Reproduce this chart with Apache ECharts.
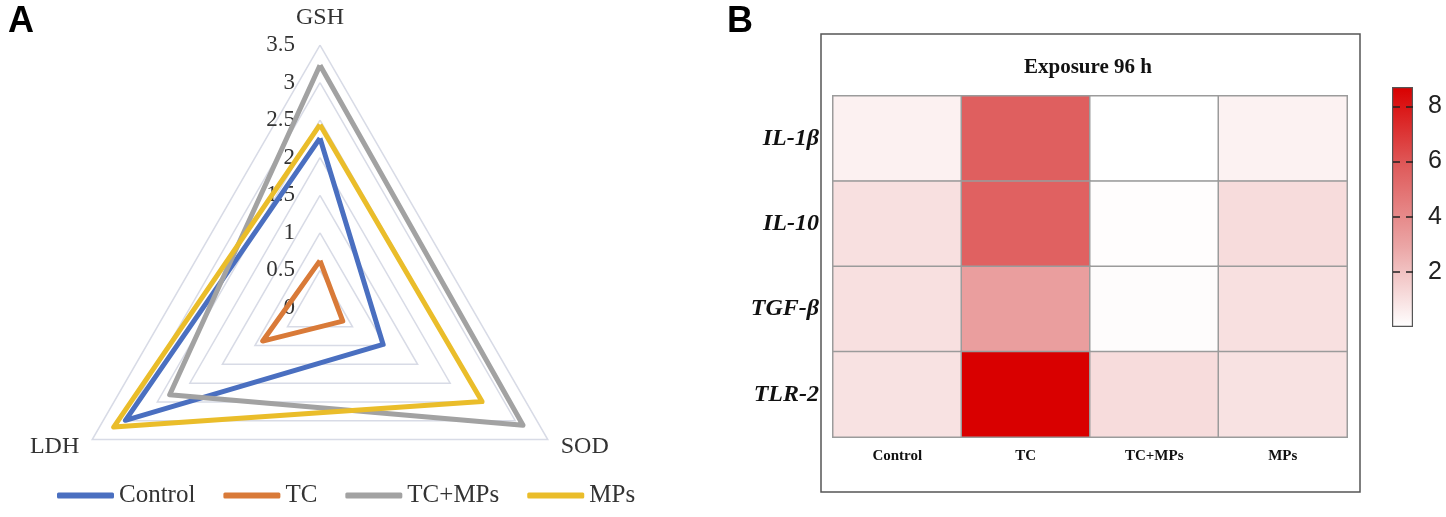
<!DOCTYPE html>
<html>
<head>
<meta charset="utf-8">
<script src="https://cdn.jsdelivr.net/npm/echarts@6/dist/echarts.min.js"></script>
<style>
  html, body { margin: 0; padding: 0; background: #fff; }
  #main { width: 1446px; height: 517px; }
</style>
</head>
<body>
<div id="main"></div>
<script>
// ---- panel A: radar ----
const indicatorNames = ['GSH', 'LDH', 'SOD'];
const radarMax = 3.5;
const groupNames = ['Control', 'TC', 'TC+MPs', 'MPs'];
// order: GSH, LDH, SOD
const controlValues = [2.26, 2.99, 0.97];
const tcValues = [0.63, 0.88, 0.35];
const tcMpsValues = [3.23, 2.31, 3.12];
const mpsValues = [2.44, 3.17, 2.49];
const lineColors = ['#4a6fc0', '#d97a38', '#a2a2a2', '#eabd2a'];

// ---- panel B: heatmap ----
const heatGroups = ['Control', 'TC', 'TC+MPs', 'MPs'];
const genes = ['IL-1β', 'IL-10', 'TGF-β', 'TLR-2'];
// one array per gene, values per group
const il1bValues = [0.45, 5.7, 0.0, 0.42];
const il10Values = [1.0, 5.6, 0.05, 1.15];
const tgfbValues = [1.0, 3.2, 0.1, 1.0];
const tlr2Values = [0.95, 8.7, 1.15, 0.95];
const colorMax = 8.7;
const colorTicks = [2, 4, 6, 8];
const colorStops = ['#ffffff', '#eba6a6', '#df5c5c', '#d90000'];

(function() {
  const chart = echarts.init(document.getElementById('main'));
  const serif = 'Liberation Serif, Times New Roman, serif';

  const radarSeries = [controlValues, tcValues, tcMpsValues, mpsValues].map((vals, i) => ({
    type: 'radar',
    name: groupNames[i],
    radarIndex: 0,
    symbol: 'none',
    lineStyle: { width: 5, color: lineColors[i], join: 'round' },
    itemStyle: { color: lineColors[i] },
    data: [{ name: groupNames[i], value: vals }]
  }));

  const geneRows = [il1bValues, il10Values, tgfbValues, tlr2Values];
  const heatData = [];
  geneRows.forEach((row, r) => {
    row.forEach((v, c) => heatData.push([c, r, v]));
  });

  const barGradient = new echarts.graphic.LinearGradient(0, 1, 0, 0,
    colorStops.map((c, i) => ({ offset: i / (colorStops.length - 1), color: c })));

  const option = {
    backgroundColor: '#fff',
    animation: false,
    color: lineColors,
    legend: {
      data: groupNames,
      left: 52,
      top: 478,
      icon: 'roundRect',
      itemWidth: 57,
      itemHeight: 6,
      itemGap: 28,
      textStyle: { fontFamily: serif, fontSize: 25, color: '#333' }
    },
    radar: {
      center: [320, 308],
      radius: 263,
      startAngle: 90,
      splitNumber: 7,
      shape: 'polygon',
      axisName: { color: '#333', fontFamily: serif, fontSize: 24 },
      nameGap: 15,
      splitLine: { lineStyle: { color: '#d8dbe6', width: 1.5 } },
      splitArea: { show: false },
      axisLine: { show: false },
      axisTick: { show: false },
      axisLabel: { show: false },
      indicator: indicatorNames.map((n, i) => ({
        name: n,
        min: 0,
        max: radarMax,
        axisLabel: i === 0
          ? { show: true, color: '#333', fontFamily: serif, fontSize: 23, margin: 25 }
          : { show: false }
      }))
    },
    grid: [
      { left: 833, top: 96, width: 514, height: 341 },
      { left: 1392, top: 87, width: 21, height: 240 }
    ],
    xAxis: [
      {
        type: 'category', gridIndex: 0, data: heatGroups,
        axisLine: { show: true, lineStyle: { color: '#222', width: 1.5 } },
        axisTick: { show: false },
        axisLabel: { color: '#111', fontFamily: serif, fontWeight: 'bold', fontSize: 15, margin: 12 },
        splitLine: { show: false }
      },
      {
        type: 'category', gridIndex: 1, data: [''],
        axisLine: { show: false }, axisTick: { show: false }, axisLabel: { show: false }
      }
    ],
    yAxis: [
      {
        type: 'category', gridIndex: 0, data: genes, inverse: true,
        axisLine: { show: true, lineStyle: { color: '#222', width: 1.5 } },
        axisTick: { show: false },
        axisLabel: { color: '#111', fontFamily: serif, fontWeight: 'bold', fontStyle: 'italic', fontSize: 24, margin: 14 },
        splitLine: { show: false }
      },
      {
        type: 'value', gridIndex: 1, min: 0, max: colorMax, position: 'right', z: 10,
        axisLine: { show: false },
        splitLine: { show: false },
        axisTick: {
          show: true, inside: true, length: 21, customValues: colorTicks,
          lineStyle: { color: '#222', width: 1.5, type: [7, 6] }
        },
        axisLabel: {
          show: true, customValues: colorTicks, margin: 15,
          color: '#222', fontFamily: 'Liberation Sans, Arial, sans-serif', fontSize: 25
        }
      }
    ],
    visualMap: {
      type: 'continuous', show: false, min: 0, max: colorMax,
      seriesIndex: 4,
      inRange: { color: colorStops }
    },
    graphic: [
      { type: 'text', left: 8, top: 4,
        style: { text: 'A', font: 'bold 36px Liberation Sans, Arial, sans-serif', fill: '#000' } },
      { type: 'text', left: 727, top: 4,
        style: { text: 'B', font: 'bold 36px Liberation Sans, Arial, sans-serif', fill: '#000' } },
      { type: 'rect', shape: { x: 821, y: 34, width: 539, height: 458 },
        style: { fill: 'none', stroke: '#555', lineWidth: 1.5 } },
      { type: 'text', x: 1088, y: 68,
        style: { text: 'Exposure 96 h', font: 'bold 21px Liberation Serif, serif', fill: '#111',
                 align: 'center', verticalAlign: 'middle' } }
    ],
    series: radarSeries.concat([
      {
        type: 'heatmap', xAxisIndex: 0, yAxisIndex: 0,
        data: heatData,
        itemStyle: { borderColor: '#9b9b9b', borderWidth: 1.5 },
        emphasis: { disabled: true }
      },
      {
        type: 'bar', xAxisIndex: 1, yAxisIndex: 1,
        data: [colorMax],
        barWidth: '100%',
        itemStyle: { color: barGradient, borderColor: '#555', borderWidth: 1.2 },
        silent: true
      }
    ])
  };

  chart.setOption(option);
})();
</script>
</body>
</html>
